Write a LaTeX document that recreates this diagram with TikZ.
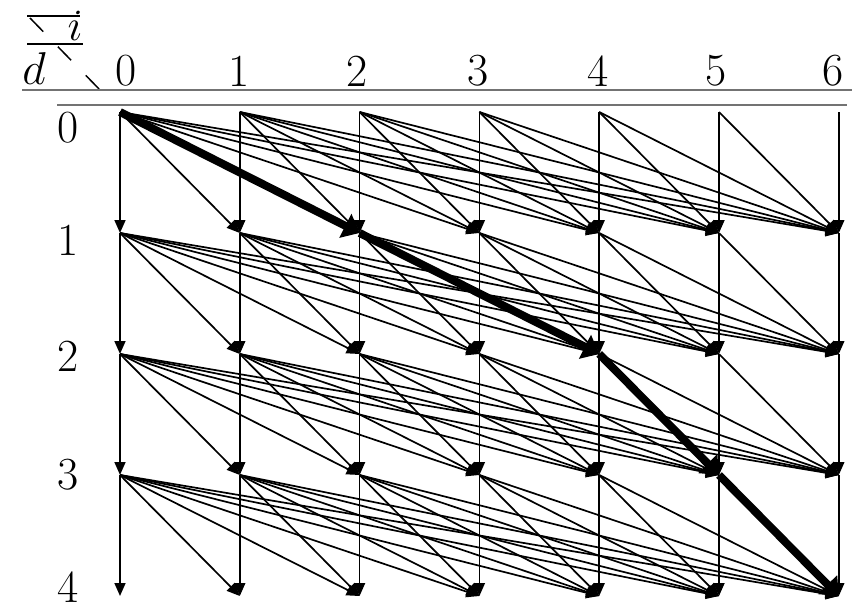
\documentclass[tikz,border=0pt]{standalone}
\usetikzlibrary{arrows.meta}
\begin{document}
\begin{tikzpicture}[x=1pt,y=-1pt,
  edge/.style={line width=1.7pt,-{Triangle[length=13pt,width=11pt]}},
  best/.style={line width=8pt,-{Triangle[length=16pt,width=26pt]}},
  lbl/.style={font=\fontsize{46}{50}\selectfont,inner sep=0pt},
  hdr/.style={font=\Huge,inner sep=0pt},
  rule/.style={black!55,line width=1.6pt}]
\useasboundingbox (0,0) rectangle (866,611);
% grid points
\foreach \i in {0,...,6}
  \foreach \d in {0,...,4}
    \coordinate (n\i\d) at ({120+119.8*\i},{112+121*\d});
% header
\draw[line width=1.5pt] (27,16) -- (80,16);
\draw[line width=1.5pt] (27,44) -- (83,44);
\node[hdr] (hi) at (75,26) {\scalebox{1.8}{$i$}};
\node[hdr] (hd) at (34,69) {\scalebox{1.85}{$d$}};
\draw[line width=1.5pt,dash pattern=on 19pt off 21pt] (30,18) -- (101,91);
\draw[rule] (22,90) -- (852,90);
\draw[rule] (57,105) -- (847,105);
% column labels
\foreach \i/\x in {0/126,1/239,2/357,3/478,4/598,5/716,6/833}
  \node[lbl] (c\i) at (\x,71) {\i};
% row labels
\foreach \d/\y in {0/128,1/240,2/356,3/475,4/587}
  \node[lbl] (r\d) at (68,\y) {\d};
% edges
\foreach \d [evaluate=\d as \e using {int(\d+1)}] in {0,...,3}
  \foreach \i in {0,...,6}
    \foreach \j in {\i,...,6}
      \draw[edge] (n\i\d) -- (n\j\e);
% best path
\draw[best] (n00) -- (n21);
\draw[best] (n21) -- (n42);
\draw[best] (n42) -- (n53);
\draw[best] (n53) -- (n64);
\end{tikzpicture}
\end{document}
